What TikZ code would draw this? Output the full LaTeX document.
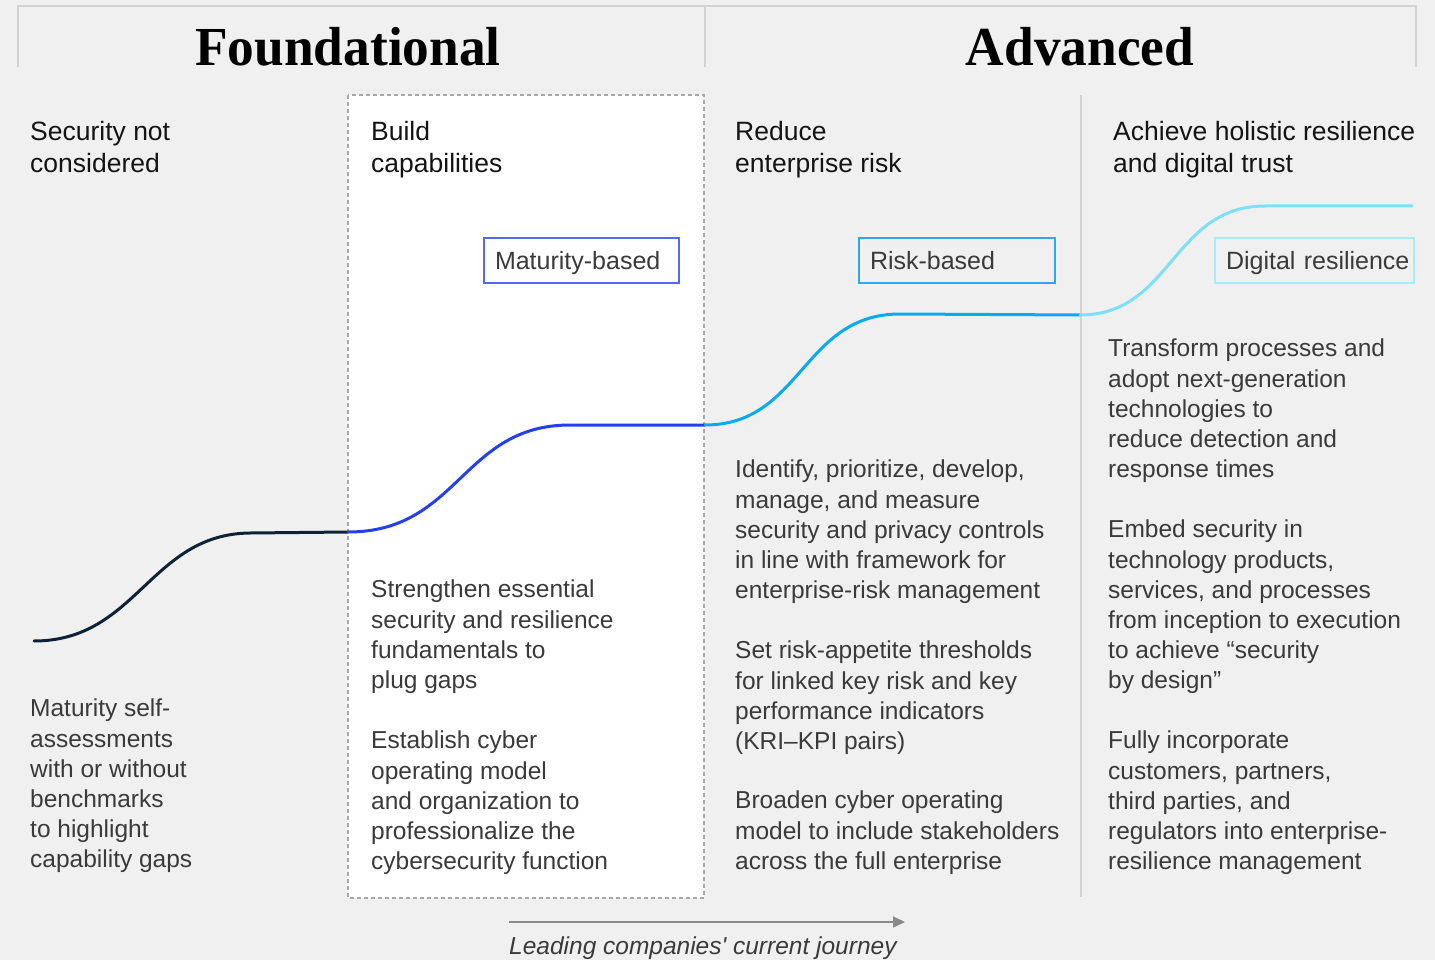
\documentclass[tikz,border=0pt]{standalone}
\usepackage{fontspec}
\setmainfont{Liberation Sans}
\newfontfamily\headserif[FakeStretch=0.97]{Liberation Serif}
\usetikzlibrary{arrows.meta}
\definecolor{bg}{HTML}{F0F0F0}
\definecolor{rulegray}{HTML}{D2D2D2}
\definecolor{dashgray}{HTML}{A8A8A8}
\definecolor{headtext}{HTML}{141414}
\definecolor{bodygray}{HTML}{3A3A3A}
\definecolor{segone}{HTML}{0D2236}
\definecolor{segtwo}{HTML}{2440EE}
\definecolor{segthree}{HTML}{0AAAF2}
\definecolor{segfour}{HTML}{7DE0F7}
\definecolor{tagone}{HTML}{5468F2}
\definecolor{tagtwo}{HTML}{2DA8F0}
\definecolor{tagthree}{HTML}{A6ECF9}
\definecolor{arrowgray}{HTML}{8A8A8A}
\tikzset{
  stagehead/.style={anchor=north west, inner sep=0pt, align=left, font=\fontsize{26.5}{32}\selectfont, text=headtext},
  bodytext/.style={anchor=north west, inner sep=0pt, align=left, font=\fontsize{24.5}{30.1}\selectfont, text=bodygray},
  bigtitle/.style={anchor=base, inner sep=0pt, font=\headserif\bfseries\fontsize{55}{55}\selectfont, text=black},
  tagbox/.style={anchor=north west, draw, line width=2pt, minimum height=45pt, inner xsep=11pt, inner ysep=0pt, text height=21pt, text depth=3pt, align=left, font=\fontsize{25}{30}\selectfont, text=bodygray},
  curve/.style={line width=3pt, line cap=round},
  bracket/.style={draw=rulegray, line width=2pt},
}
\begin{document}
\begin{tikzpicture}[x=1pt,y=-1pt]
\fill[bg] (0,0) rectangle (1435,960);
\useasboundingbox (0,0) rectangle (1435,960);

% top bracket
\coordinate (bl) at (18,67);
\coordinate (tl) at (18,6);
\coordinate (tm) at (705,6);
\coordinate (bm) at (705,67);
\coordinate (tr) at (1416,6);
\coordinate (br) at (1416,67);
\draw[bracket] (bl) -- (tl) -- (tr) -- (br);
\draw[bracket] (tm) -- (bm);

\node[bigtitle] (found) at (348,66) {Foundational};
\node[bigtitle] (adv) at (1080,66) {Advanced};

% dashed box and divider
\coordinate (dbox1) at (348,95);
\coordinate (dbox2) at (704,898);
\draw[fill=white, draw=dashgray, line width=1.5pt, dash pattern=on 4pt off 3pt] (dbox1) rectangle (dbox2);
\coordinate (divtop) at (1081,95);
\coordinate (divbot) at (1081,897);
\draw[rulegray, line width=2pt] (divtop) -- (divbot);

% stage headings
\node[stagehead] (h1) at (30,121) {Security not\\considered};
\node[stagehead] (h2) at (371,121) {Build\\capabilities};
\node[stagehead] (h3) at (735,121) {Reduce\\enterprise risk};
\node[stagehead] (h4) at (1113,121) {Achieve holistic resilience\\and digital trust};

% tags
\node[tagbox, draw=tagone, fill=white, text width=173pt] (tag1) at (483,237) {\mbox{Maturity-based}};
\node[tagbox, draw=tagtwo, text width=174pt] (tag2) at (858,237) {\mbox{Risk-based}};
\node[tagbox, draw=tagthree, text width=177pt] (tag3) at (1214,237) {\mbox{Digital resilience}};

% curves
\coordinate (c0) at (34,641);
\coordinate (c1) at (348,532);
\coordinate (c2) at (705,425);
\coordinate (c3) at (1080,315);
\coordinate (c4) at (1412,206);
\draw[curve, segone] (c0) .. controls (137,641) and (150,534) .. (250,533) -- (c1);
\draw[curve, segtwo] (c1) .. controls (459,532) and (462,425) .. (570,425) -- (c2);
\draw[curve, segthree] (c2) .. controls (802,425) and (802,314) .. (900,314) -- (c3);
\draw[curve, segfour] (c3) .. controls (1172,315) and (1172,206) .. (1265,206) -- (c4);

% body texts
\node[bodytext] (b1) at (30,699) {Maturity self-\\assessments\\with or without\\benchmarks\\to highlight\\capability gaps};
\node[bodytext] (b2a) at (371,580) {Strengthen essential\\security and resilience\\fundamentals to\\plug gaps};
\node[bodytext] (b2b) at (371,731) {Establish cyber\\operating model\\and organization to\\professionalize the\\cybersecurity function};
\node[bodytext] (b3a) at (735,460) {Identify, prioritize, develop,\\manage, and measure\\security and privacy controls\\in line with framework for\\enterprise-risk management};
\node[bodytext] (b3b) at (735,641) {Set risk-appetite thresholds\\for linked key risk and key\\performance indicators\\(KRI–KPI pairs)};
\node[bodytext] (b3c) at (735,791) {Broaden cyber operating\\model to include stakeholders\\across the full enterprise};
\node[bodytext] (b4a) at (1108,339) {Transform processes and\\adopt next-generation\\technologies to\\reduce detection and\\response times};
\node[bodytext] (b4b) at (1108,520) {Embed security in\\technology products,\\services, and processes\\from inception to execution\\to achieve “security\\by design”};
\node[bodytext] (b4c) at (1108,731) {Fully incorporate\\customers, partners,\\third parties, and\\regulators into enterprise-\\resilience management};

% journey arrow
\coordinate (j0) at (509,922);
\coordinate (j1) at (905,922);
\draw[arrowgray, line width=1.5pt, -{Triangle[length=12pt,width=11pt]}] (j0) -- (j1);
\node[anchor=north west, inner sep=0pt, font=\itshape\fontsize{24.5}{30}\selectfont, text=bodygray] (journey) at (509,937) {Leading companies\textquotesingle{} current journey};
\end{tikzpicture}
\end{document}
